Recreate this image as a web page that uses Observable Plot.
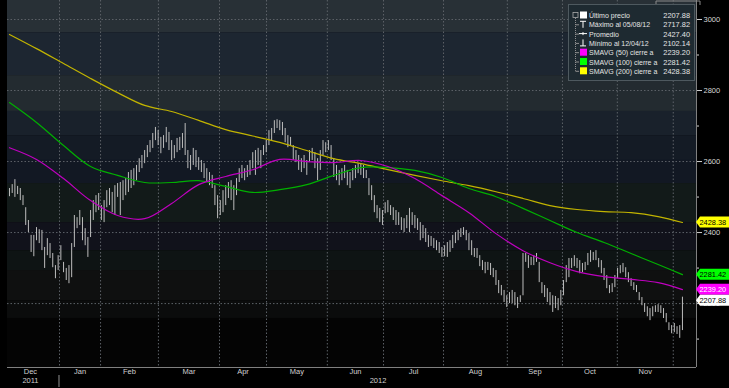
<!DOCTYPE html>
<html><head><meta charset="utf-8">
<script src="https://cdn.jsdelivr.net/npm/d3@7"></script>
<script src="https://cdn.jsdelivr.net/npm/@observablehq/plot@0.6"></script>
<style>
html,body{margin:0;padding:0;background:#000;}
#wrap{position:relative;width:729px;height:388px;overflow:hidden;}
</style></head>
<body><div id="wrap"></div>
<script>
const FONT = '"Liberation Sans",Arimo,sans-serif';

// daily bars (index = trading day), prices
const highs = [
2524,2535,2549,2530,2524,2504,2470,2434,2392,2392,
2414,2408,2406,2358,2383,2369,2341,2307,2335,2363,
2316,2299,2307,2369,2448,2442,2462,2442,2411,2386,
2462,2490,2504,2510,2476,2490,2518,2524,2513,2532,
2538,2541,2546,2552,2569,2575,2580,2589,2608,2617,
2631,2645,2659,2679,2696,2687,2668,2673,2696,2682,
2659,2645,2665,2668,2679,2707,2631,2617,2637,2631,
2611,2603,2594,2580,2569,2561,2532,2504,2490,2518,
2532,2541,2546,2532,2552,2580,2589,2580,2589,2603,
2625,2631,2637,2631,2645,2659,2687,2693,2715,2717.82,
2715,2710,2693,2673,2668,2645,2631,2617,2608,2617,
2603,2631,2637,2625,2608,2631,2659,2653,2659,2645,
2608,2589,2575,2580,2589,2575,2569,2580,2589,2594,
2594,2589,2575,2552,2532,2504,2476,2468,2462,2484,
2490,2476,2470,2462,2456,2442,2439,2448,2468,2456,
2448,2439,2428,2420,2411,2392,2389,2383,2377,2372,
2358,2363,2372,2377,2392,2400,2406,2411,2414,2406,
2397,2377,2355,2355,2335,2321,2316,2316,2313,2299,
2293,2265,2251,2237,2222,2231,2237,2231,2217,2222,
2341,2341,2335,2330,2335,2341,2316,2259,2251,2242,
2231,2222,2220,2214,2237,2265,2307,2327,2327,2335,
2327,2321,2313,2316,2341,2349,2344,2349,2327,2321,
2299,2279,2251,2256,2279,2299,2307,2313,2301,2287,
2270,2259,2251,2231,2217,2200,2191,2186,2191,2194,
2197,2194,2186,2172,2146,2138,2144,2135,2138,2218];
const lows = [
2501,2510,2499,2507,2490,2476,2420,2400,2344,2332,
2377,2369,2349,2299,2335,2327,2301,2270,2293,2321,
2287,2265,2256,2273,2358,2411,2420,2377,2363,2330,
2386,2434,2456,2462,2434,2428,2470,2476,2456,2448,
2499,2448,2490,2504,2513,2524,2532,2546,2569,2580,
2594,2611,2625,2637,2659,2645,2622,2637,2653,2631,
2603,2608,2625,2631,2637,2617,2580,2575,2589,2583,
2575,2569,2552,2541,2532,2524,2476,2439,2448,2456,
2476,2496,2490,2462,2504,2541,2552,2546,2555,2561,
2580,2561,2589,2580,2617,2625,2645,2659,2679,2693,
2687,2673,2653,2639,2645,2603,2597,2575,2569,2580,
2561,2597,2603,2580,2546,2575,2617,2625,2631,2603,
2555,2546,2532,2546,2552,2532,2524,2546,2552,2566,
2561,2552,2552,2504,2490,2456,2439,2428,2420,2453,
2456,2448,2434,2420,2420,2406,2400,2411,2400,2420,
2411,2406,2377,2383,2372,2358,2361,2355,2349,2341,
2330,2332,2330,2344,2355,2369,2377,2386,2392,2377,
2349,2335,2330,2327,2304,2293,2284,2293,2279,2273,
2251,2228,2222,2203,2189,2200,2200,2194,2186,2203,
2222,2316,2299,2307,2307,2316,2259,2228,2217,2203,
2194,2175,2186,2180,2194,2222,2259,2273,2299,2304,
2299,2284,2287,2293,2307,2316,2321,2321,2301,2284,
2265,2242,2228,2231,2245,2270,2284,2287,2273,2259,
2248,2237,2231,2208,2194,2175,2163,2152,2163,2175,
2175,2172,2158,2146,2124,2115,2118,2113,2102.14,2124];

// moving averages sampled at these bar indices
const smaIdx = [0,10,20,30,40,50,60,70,80,90,100,110,120,130,140,150,160,170,180,190,200,210,220,230,240,249];
const sma200 = [2958,2918,2876,2834,2794,2758,2741,2716,2690,2672,2654,2631,2608,2594,2577,2561,2546,2532,2515,2496,2476,2465,2459,2456,2445,2428.38];
const sma100 = [2766,2710,2645,2586,2561,2541,2541,2546,2530,2513,2521,2535,2561,2583,2583,2575,2555,2524,2501,2468,2434,2400,2372,2341,2310,2281.42];
const sma50  = [2639,2606,2552,2490,2448,2439,2482,2535,2558,2577,2606,2600,2597,2603,2586,2552,2504,2456,2397,2349,2315,2290,2276,2268,2259,2239.20];

// axis
const monthNames = ["Dec","Jan","Feb","Mar","Apr","May","Jun","Jul","Aug","Sep","Oct","Nov"];
const monthStarts = [-3,18.5,33.7,55.1,77.7,95.1,117.6,138.4,160.6,184.2,204.6,224.9,245.6];
const yearLabels = ["2011","2012"];
const yMajor = [2200,2400,2600,2800,3000];
const yMinor = [2100,2300,2500,2700,2900];
const xDomain = [-0.74,254.2];
const yDomain = [2020,3053.5];

// legend
const legendLabels = ["Último precio","Máximo al 05/08/12","Promedio","Mínimo al 12/04/12","SMAVG (50) cierre a","SMAVG (100) cierre a","SMAVG (200) cierre a"];
const legendValues = ["2207.88","2717.82","2427.40","2102.14","2239.20","2281.42","2428.38"];
const lastPrice = 2207.88;

// background bands (price ranges, style)
const bandEdges = [3053.5,2963,2842,2741,2673,2603,2538,2428,2349,2293,2208,2158,2020];
const bandFills = ["#283036","#1d2631","#232b30","#19212b","#141b25","#121823","#121a19","#11121b","#0e1414","#0f1010","#0b0c0c","#040404"];

const bars = highs.map((h,i)=>({i, high:h, low:lows[i]}));
const toLine = arr => smaIdx.map((i,k)=>({i, v:arr[k]}));
const bands = bandFills.map((f,k)=>({x1:xDomain[0], x2:xDomain[1], y1:bandEdges[k+1], y2:bandEdges[k], fill:f}));
const months = monthNames.map((m,k)=>({name:m, mid:(monthStarts[k]+(monthStarts[k+1] ?? xDomain[1]))/2}));
const grid = "#5d6268";

const chart = Plot.plot({
  width:729, height:388, marginLeft:7, marginRight:33, marginTop:0, marginBottom:21,
  style:{background:"#000", color:"#d8d8d8", fontFamily:FONT, fontSize:"8px"},
  x:{domain:xDomain, axis:null},
  y:{domain:yDomain, axis:null},
  color:{type:"identity"},
  marks:[
    Plot.rect(bands,{x1:"x1",x2:"x2",y1:"y1",y2:"y2",fill:"fill"}),
    Plot.ruleY(yMajor,{stroke:grid, strokeDasharray:"1.5,2"}),
    Plot.ruleX(monthStarts.filter(d=>d>0),{stroke:grid, strokeDasharray:"1.5,2"}),
    Plot.ruleX(bars,{x:"i", y1:"low", y2:"high", stroke:"#bdbdbd", strokeWidth:1}),
    Plot.line(toLine(sma200),{x:"i", y:"v", stroke:"#c2b400", strokeWidth:1.2, curve:"catmull-rom"}),
    Plot.line(toLine(sma100),{x:"i", y:"v", stroke:"#00b000", strokeWidth:1.2, curve:"catmull-rom"}),
    Plot.line(toLine(sma50),{x:"i", y:"v", stroke:"#bf00bf", strokeWidth:1.2, curve:"catmull-rom"}),
    Plot.ruleY([yDomain[0]],{stroke:"#808080"}),
    Plot.ruleX([xDomain[1]],{stroke:"#808080"}),
    Plot.axisY({anchor:"right", ticks:yMajor, tickSize:5, tickPadding:2, tickFormat:d=>String(d), stroke:"#d0d0d0", fill:"#d8d8d8", fontSize:7.5}),
    Plot.axisY({anchor:"right", ticks:yMinor, tickSize:2, tickFormat:()=>"", stroke:"#d0d0d0"}),
    Plot.text(months,{x:"mid", text:"name", frameAnchor:"bottom", dy:6, fill:"#d0d0d0", fontSize:7.5}),
    Plot.text([{t:yearLabels[0], x:months[0].mid},{t:yearLabels[1], x:(monthStarts[1]+xDomain[1])/2}],{x:"x", text:"t", frameAnchor:"bottom", dy:15, fill:"#d0d0d0", fontSize:7.5})
  ]
});
const wrap = document.getElementById("wrap");
wrap.appendChild(chart);
const xs = chart.scale("x"), ys = chart.scale("y");

const ov = d3.select(wrap).append("svg").attr("width",729).attr("height",388)
  .style("position","absolute").style("left","0px").style("top","0px")
  .style("font-family",FONT).style("font-size","8px");

// year separator
const xj = xs.apply(monthStarts[1]);
ov.append("line").attr("x1",xj).attr("x2",xj).attr("y1",375).attr("y2",387).attr("stroke","#909090");

// value tags
const tags = [
  {v:sma200[sma200.length-1], fill:"#ffff00", tc:"#000", s:legendValues[6]},
  {v:sma100[sma100.length-1], fill:"#00ff00", tc:"#000", s:legendValues[5]},
  {v:sma50[sma50.length-1], fill:"#ff00ff", tc:"#fff", s:legendValues[4]},
  {v:lastPrice, fill:"#ffffff", tc:"#000", s:legendValues[0]}
];
tags.forEach(t=>{
  const y = ys.apply(t.v);
  ov.append("path").attr("d",`M696,${y} L700,${y-5.5} H729 V${y+5.5} H700 Z`).attr("fill",t.fill);
  ov.append("text").attr("x",699.5).attr("y",y+3).attr("fill",t.tc).style("font-size","7.4px").text(t.s);
});

// top tab
ov.append("path").attr("d","M656,5 V1 H700 V5").attr("fill","none").attr("stroke","#8a8a8a");

// legend box
const L = ov.append("g");
L.append("rect").attr("x",568.5).attr("y",4.5).attr("width",126).attr("height",76).attr("fill","#1e2a31").attr("stroke","#4e595f");
const rowY = legendLabels.map((_,k)=>15+k*9.3);
L.append("line").attr("x1",575.5).attr("x2",575.5).attr("y1",rowY[0]+3).attr("y2",rowY[6]).attr("stroke","#909090").attr("stroke-dasharray","1,1");
rowY.slice(1).forEach(y=>L.append("line").attr("x1",575.5).attr("x2",579).attr("y1",y+0.5).attr("y2",y+0.5).attr("stroke","#909090"));
L.append("rect").attr("x",573).attr("y",rowY[0]-2.5).attr("width",5).attr("height",5).attr("fill","none").attr("stroke","#aaa").attr("stroke-width",0.8);
L.append("rect").attr("x",580).attr("y",rowY[0]-3.5).attr("width",7).attr("height",7).attr("fill","#fff");
L.append("path").attr("d",`M580,${rowY[1]-3} H586 M583,${rowY[1]-3} V${rowY[1]+3.5}`).attr("stroke","#fff").attr("fill","none");
L.append("path").attr("d",`M579,${rowY[2]} H587 M583,${rowY[2]-1.5} V${rowY[2]+1.5}`).attr("stroke","#fff").attr("fill","none");
L.append("path").attr("d",`M583,${rowY[3]-3.5} V${rowY[3]+3} M580,${rowY[3]+3} H586`).attr("stroke","#fff").attr("fill","none");
["#ff00ff","#00ff00","#ffff00"].forEach((c,k)=>L.append("rect").attr("x",580).attr("y",rowY[4+k]-3.5).attr("width",7).attr("height",7).attr("fill",c));
legendLabels.forEach((s,k)=>{
  L.append("text").attr("x",589).attr("y",rowY[k]+3).attr("fill","#e4e4e4").style("font-size","7px").text(s);
  L.append("text").attr("x",690).attr("y",rowY[k]+3).attr("fill","#e4e4e4").attr("text-anchor","end").style("font-size","7.4px").text(legendValues[k]);
});
</script></body></html>
